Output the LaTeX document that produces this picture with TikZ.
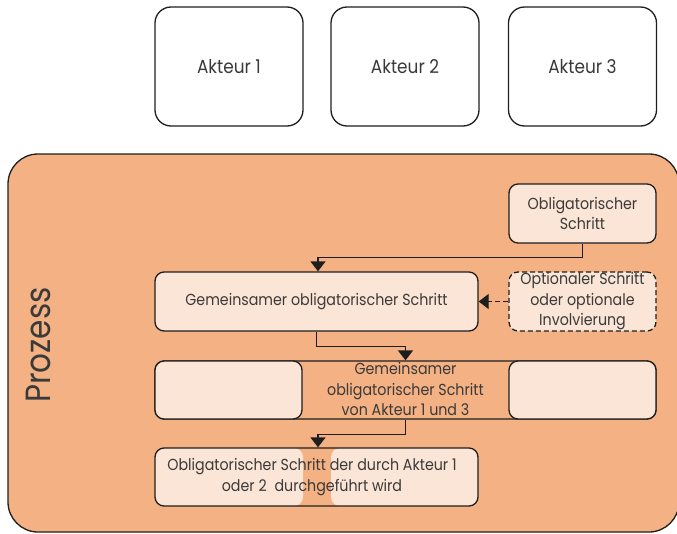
\documentclass[tikz,border=0pt]{standalone}
\usepackage{fontspec}
\setmainfont{Poppins}[FakeStretch=0.89]
\usetikzlibrary{arrows.meta,calc}
\definecolor{procorange}{HTML}{F4B183}
\definecolor{steplight}{HTML}{FBE5D6}
\definecolor{edgeblack}{HTML}{1E1E1E}
\definecolor{txtgray}{HTML}{3A3A3A}
\begin{document}
\begin{tikzpicture}[x=1pt,y=-1pt,
  lbl/.style={font=\fontsize{16}{20.5}\selectfont, text=txtgray, align=center},
  actor/.style={draw=edgeblack, line width=1.3pt, fill=white, rounded corners=16pt,
    minimum width=148pt, minimum height=119pt, inner sep=0pt,
    font=\fontsize{19}{22}\selectfont, text=txtgray},
  stepbox/.style={draw=edgeblack, line width=1.3pt, fill=steplight, rounded corners=9pt,
    minimum height=59pt, inner sep=0pt, lbl},
  frame/.style={draw=edgeblack, line width=1.3pt, rounded corners=9pt,
    minimum height=58pt, inner sep=0pt},
  conn/.style={draw=edgeblack, line width=1.3pt, -{Triangle[width=15pt,length=10pt]}},
]
\useasboundingbox (0,0) rectangle (677,533);
% actors
\node[actor] (a1) at (229,66.5) {Akteur 1};
\node[actor] (a2) at (405,66.5) {Akteur 2};
\node[actor] (a3) at (582.5,66.5) {Akteur 3};
% process container
\node[draw=edgeblack, line width=1.3pt, fill=procorange, rounded corners=30pt,
  minimum width=671pt, minimum height=378pt, inner sep=0pt] (proc) at (343.5,343) {};
\node[rotate=90, font=\fontsize{35}{40}\selectfont, text=txtgray] (plabel) at (38,345) {Prozess};
% steps
\node[stepbox, minimum width=147pt] (o1) at (582.5,213.5) {Obligatorischer\\Schritt};
\node[stepbox, minimum width=323pt] (g1) at (316.5,301.5) {Gemeinsamer obligatorischer Schritt};
\node[stepbox, minimum width=147pt, dashed, dash pattern=on 5pt off 3pt] (opt) at (582.5,301.5)
  {Optionaler Schritt\\oder optionale\\Involvierung};
% row 3
\node[frame, minimum width=501pt] (r3) at (405.5,390) {};
\node[stepbox, minimum width=147pt, minimum height=58pt] (r3l) at (228.5,390) {};
\node[stepbox, minimum width=147pt, minimum height=58pt] (r3r) at (582.5,390) {};
\node[lbl] (r3t) at (405.5,389) {Gemeinsamer\\obligatorischer Schritt\\von Akteur 1 und 3};
% row 4
\fill[steplight, rounded corners=9pt] (155,448) rectangle (303,506);
\fill[steplight, rounded corners=9pt] (331,448) rectangle (478,506);
\node[frame, minimum width=323pt] (r4) at (316.5,477) {};
\node[lbl] (r4t) at (312,477) {Obligatorischer Schritt der durch Akteur 1\\oder 2\hspace{4pt} durchgeführt wird};
% connectors
\draw[conn] (o1.south) -- ++(0,14) -| ([xshift=1.5pt]g1.north);
\draw[conn] (g1.south) -- ++(0,15) -| (r3.north);
\draw[conn] (r3.south) -- ++(0,15) -| ([xshift=1.5pt]r4.north);
\draw[conn, dashed, dash pattern=on 5pt off 3pt] (opt.west) -- (g1.east);
\end{tikzpicture}
\end{document}
